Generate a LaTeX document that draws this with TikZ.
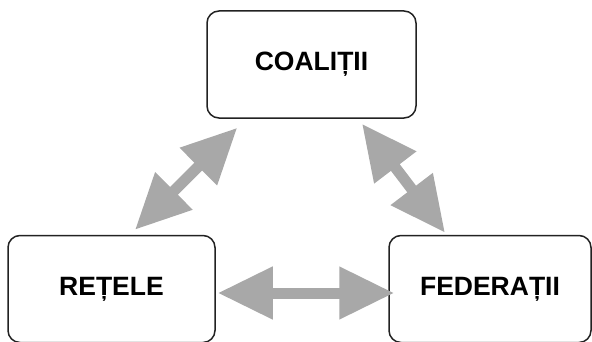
\documentclass[tikz,border=0pt]{standalone}
\usepackage{fontspec}
\setmainfont{Liberation Sans}
\usetikzlibrary{arrows.meta}

\definecolor{arrowgray}{RGB}{168,168,168}
\definecolor{boxline}{RGB}{34,34,34}

\tikzset{
	orgbox/.style={draw=boxline, line width=1.5pt, rounded corners=12pt,
		minimum width=#1, minimum height=107pt, inner sep=0pt,
		font=\fontsize{26.5}{30}\selectfont\bfseries},
	dblarrow/.style={draw=arrowgray, line width=11pt,
		{Triangle[length=55pt,width=50pt]}-{Triangle[length=55pt,width=50pt]}}
}

\begin{document}
\begin{tikzpicture}[x=1pt, y=1pt]
	\useasboundingbox (0,0) rectangle (592,341);
	
	% Draw the three boxes
	\node[orgbox=209pt] (coal) at (311.5,276.5) {COALIȚII};
	\node[orgbox=207pt] (ret) at (111.5,52) {REȚELE};
	\node[orgbox=202pt] (fed) at (490,52) {FEDERAȚII};
	
	% Draw arrow between coalitii and retele
	\draw[dblarrow] ([shift={(31pt,-9pt)}]coal.south west) -- ([shift={(23.5pt,5pt)}]ret.north);
	
	% Draw arrow between coalitii and federatii
	\draw[dblarrow] ([shift={(50.5pt,-5pt)}]coal.south) -- ([shift={(-45pt,2pt)}]fed.north);
	
	% Draw arrow between retele and federatii
	\draw[dblarrow] ([shift={(2pt,-4pt)}]ret.east) -- ([shift={(6pt,-4pt)}]fed.west);
\end{tikzpicture}
\end{document}
